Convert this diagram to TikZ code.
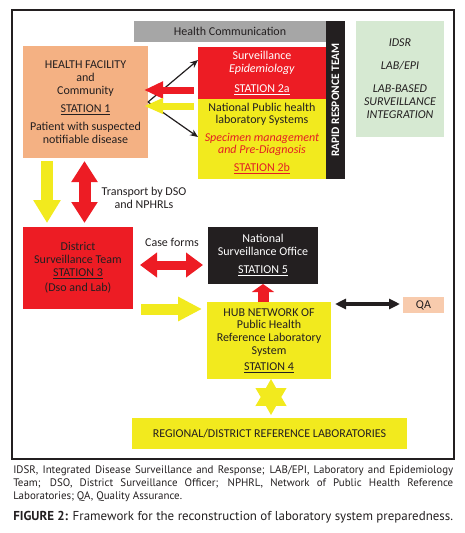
\documentclass[tikz,border=0pt]{standalone}
\usepackage{fontspec}
\setmainfont{Carlito}
\newfontfamily\capfont{PT Sans}
\usetikzlibrary{arrows.meta,shapes.geometric}
\definecolor{myred}{RGB}{237,28,36}
\definecolor{myyellow}{RGB}{242,234,30}
\definecolor{hfc}{RGB}{244,177,131}
\definecolor{qac}{RGB}{248,203,173}
\definecolor{grn}{RGB}{214,233,210}
\definecolor{gry}{RGB}{166,166,166}
\definecolor{myblack}{RGB}{35,31,32}
\definecolor{txtred}{RGB}{227,30,36}
\begin{document}
\begin{tikzpicture}[x=0.75pt,y=-0.75pt,
  box/.style={draw=none,inner sep=0pt,outer sep=0pt,align=center,text=myblack,
    font=\fontsize{9pt}{9.75pt}\selectfont},
  sz/.style 2 args={minimum width=#1*0.75pt,minimum height=#2*0.75pt},
  thinarr/.style={draw=myblack,line width=0.9pt,-{Stealth[length=6pt,width=5pt]}},
  lbl/.style={inner sep=0pt,align=center,text=myblack,font=\fontsize{9pt}{9.75pt}\selectfont}
]
\useasboundingbox (0,0) rectangle (465,533);
% frame
\draw[myblack,line width=0.9pt] (12,10) rectangle (454,459);

% top row
\node[box,fill=gry,sz={192}{21}] (hc) at (230,31.5) {Health Communication};
\node[box,fill=hfc,sz={125}{112}] (hf) at (85.5,102)
  {HEALTH FACILITY\\and\\Community\\[3.75pt]\underline{STATION 1}\\[3.75pt]Patient with suspected\\notifiable disease};
\node[box,fill=myred,text=white,sz={128}{52}] (s2a) at (262,73)
  {\fontsize{9pt}{9pt}\selectfont Surveillance\\\textit{Epidemiology}\\[5.25pt]\underline{STATION 2a}};
\node[box,fill=myyellow,sz={128}{80},font=\fontsize{9pt}{8.8pt}\selectfont] (s2b) at (262,139)
  {National Public health\\laboratory Systems\\[4.8pt]\textcolor{txtred}{\textit{Specimen management}}\\\textcolor{txtred}{\textit{and Pre-Diagnosis}}\\[4.8pt]\textcolor{txtred}{\underline{STATION 2b}}};
\node[box,fill=myblack,text=white,rotate=90,sz={158}{19},font=\bfseries\fontsize{8.6pt}{9pt}\selectfont] (rrt) at (335.5,100) {RAPID RESPONCE TEAM};
\node[box,fill=grn,sz={88}{116},font=\itshape\fontsize{9pt}{9.75pt}\selectfont] (grn) at (400,79)
  {IDSR\\[7.5pt]LAB/EPI\\[7.5pt]LAB-BASED\\SURVEILLANCE\\INTEGRATION};

% middle
\node[box,fill=myred,sz={110}{82}] (dst) at (78,268)
  {District\\Surveillance Team\\\underline{STATION 3}\\[1.5pt](Dso and Lab)};
\node[box,fill=myblack,text=white,sz={110}{57}] (nso) at (263,255.5)
  {National\\Surveillance Office\\[3.75pt]\underline{STATION 5}};
\node[box,fill=myyellow,sz={124}{77},font=\fontsize{9pt}{9.5pt}\selectfont] (hub) at (269,340.5)
  {HUB NETWORK OF\\Public Health\\Reference Laboratory\\System\\[2.5pt]\underline{STATION 4}};
\node[box,fill=qac,sz={41}{16}] (qa) at (423.5,305) {QA};
\node[star,star points=6,star point ratio=1.75,minimum size=36*0.75pt,inner sep=0pt,fill=myyellow] (star) at (271,397) {};
\node[box,fill=myyellow,sz={275}{31}] (reg) at (269.5,433.5) {REGIONAL/DISTRICT REFERENCE LABORATORIES};

% labels
\node[lbl] (tr) at (144,197.5) {Transport by DSO\\and NPHRLs};
\node[lbl] (cf) at (172,242) {Case forms};

% thin arrows
\draw[thinarr] (hf.east) -- (s2a.west |- 0,60);
\draw[thinarr] (hf.east) -- (s2b.west |- 0,137);

% fat arrows
\draw[myred,line width=5.25pt,-{Triangle[length=14.25pt,width=12pt]},shorten <=3pt,shorten >=-3pt]
  (s2a.west |- 0,90) -- (hf.east |- 0,90);
\draw[myyellow,line width=5.25pt,-{Triangle[length=14.25pt,width=11pt]},shorten <=3pt,shorten >=-3pt]
  (s2b.west |- 0,106) -- (hf.east |- 0,106);
\draw[myyellow,line width=9pt,-{Triangle[length=17.25pt,width=19.5pt]},shorten <=2.25pt,shorten >=3pt]
  (hf.south -| 47,0) -- (dst.north -| 47,0);
\draw[myred,line width=9pt,{Triangle[length=15.75pt,width=18.75pt]}-{Triangle[length=15.75pt,width=18.75pt]},shorten <=2.25pt,shorten >=3pt]
  (hf.south -| 84.5,0) -- (dst.north -| 84.5,0);
\draw[myred,line width=6.75pt,{Triangle[length=12.75pt,width=18pt]}-{Triangle[length=12.75pt,width=18pt]},shorten <=5.25pt,shorten >=3.75pt]
  (dst.east |- 0,265) -- (nso.west |- 0,265);
\draw[myyellow,line width=8.25pt,-{Triangle[length=18pt,width=17.25pt]},shorten <=6pt,shorten >=3.75pt]
  (dst.east |- 0,309) -- (hub.west |- 0,309);
\draw[myred,line width=8.25pt,-{Triangle[length=6pt,width=16.5pt]}]
  (hub.north -| 263,0) -- (nso.south -| 263,0);
\draw[myblack,line width=2.6pt,{Triangle[length=8.25pt,width=7.5pt]}-{Triangle[length=8.25pt,width=7.5pt]},shorten <=3pt,shorten >=2.25pt]
  (hub.east |- 0,304) -- (qa.west |- 0,304);

% caption
\node[anchor=north west,inner sep=0pt,text width=440*0.75pt,align=justify,text=myblack,
  font=\capfont\fontsize{8.2pt}{9.75pt}\selectfont] (fn) at (13,465)
  {IDSR, Integrated Disease Surveillance and Response; LAB/EPI, Laboratory and Epidemiology\linebreak Team; DSO, District Surveillance Officer; NPHRL, Network of Public Health Reference\linebreak Laboratories; QA, Quality Assurance.};
\node[anchor=base west,inner sep=0pt,text=myblack,font=\capfont\fontsize{9.7pt}{10pt}\selectfont] (fig) at (13,520)
  {\textbf{FIGURE 2:} Framework for the reconstruction of laboratory system preparedness.};
\end{tikzpicture}
\end{document}
